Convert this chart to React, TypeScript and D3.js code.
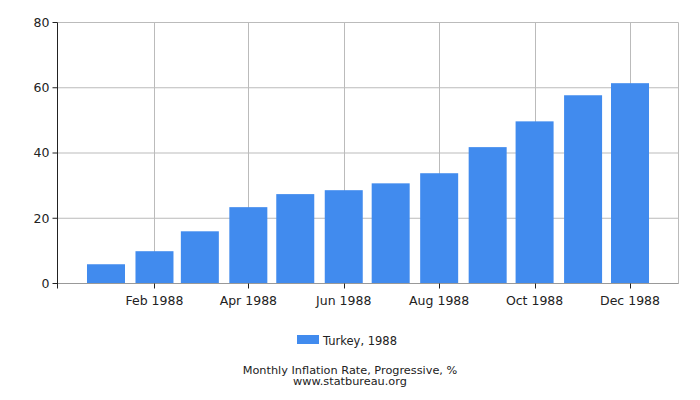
import React from "react";
import * as d3 from "d3";

const months: Date[] = d3.range(12).map((m) => new Date(1988, m, 1));
const values: number[] = [5.9, 9.9, 16.0, 23.4, 27.4, 28.6, 30.7, 33.8, 41.8, 49.7, 57.7, 61.4];
const yTicks: number[] = [0, 20, 40, 60, 80];
const xTickMonths: number[] = [1, 3, 5, 7, 9, 11];
const seriesName = "Turkey, 1988";
const title = "Monthly Inflation Rate, Progressive, %";
const source = "www.statbureau.org";

const W = 700;
const H = 400;
const left = 57.5;
const right = 678.5;
const top = 22.5;
const bottom = 283.5;
const barColor = "#418bee";
const font = "'DejaVu Sans', Verdana, sans-serif";
const fmt = d3.timeFormat("%b %Y");

export default function App() {
  const x = d3
    .scaleTime()
    .domain([new Date(1987, 11, 1), new Date(1989, 0, 1)])
    .range([left, right]);
  const y = d3.scaleLinear().domain([0, 80]).range([bottom, top]);
  const barW = 38;
  const xTicks = xTickMonths.map((m) => months[m]);

  return (
    <svg
      width={W}
      height={H}
      style={{ position: "absolute", left: 0, top: 0, background: "#fff" }}
      fontFamily={font}
    >
      {/* horizontal grid */}
      {yTicks.map((t) => (
        <line key={"gy" + t} x1={left} x2={right} y1={y(t)} y2={y(t)} stroke="#bbbbbb" strokeWidth={1} />
      ))}
      {/* vertical grid */}
      {xTicks.map((d, i) => (
        <line
          key={"gx" + i}
          x1={Math.round(x(d)) + 0.5}
          x2={Math.round(x(d)) + 0.5}
          y1={top}
          y2={bottom}
          stroke="#bbbbbb"
          strokeWidth={1}
        />
      ))}
      <line x1={right} x2={right} y1={top} y2={bottom} stroke="#bbbbbb" strokeWidth={1} />
      {/* bars */}
      {values.map((v, i) => (
        <rect
          key={"b" + i}
          x={x(months[i]) - barW / 2}
          y={y(v)}
          width={barW}
          height={bottom - y(v)}
          fill={barColor}
        />
      ))}
      {/* axes */}
      <line x1={left} x2={right} y1={bottom} y2={bottom} stroke="#999999" strokeWidth={1} />
      <line x1={left} x2={left} y1={top} y2={bottom + 5} stroke="#222222" strokeWidth={1} />
      {yTicks.map((t) => (
        <g key={"yt" + t}>
          <line x1={left - 5} x2={left} y1={y(t)} y2={y(t)} stroke="#222222" />
          <text x={left - 8} y={y(t)} dy="0.35em" textAnchor="end" fontSize={12.5} fill="#222222">
            {t}
          </text>
        </g>
      ))}
      {xTicks.map((d, i) => (
        <g key={"xt" + i}>
          <line
            x1={Math.round(x(d)) + 0.5}
            x2={Math.round(x(d)) + 0.5}
            y1={bottom}
            y2={bottom + 5}
            stroke="#222222"
          />
          <text x={x(d)} y={305} textAnchor="middle" fontSize={12.5} fill="#222222">
            {fmt(d)}
          </text>
        </g>
      ))}
      {/* legend */}
      <rect x={297} y={335} width={22} height={9} fill={barColor} />
      <text x={323} y={345} fontSize={11.5} fill="#222222">
        {seriesName}
      </text>
      {/* title */}
      <text x={350} y={374} textAnchor="middle" fontSize={11.3} fill="#222222">
        {title}
      </text>
      <text x={350} y={385} textAnchor="middle" fontSize={11.3} fill="#222222">
        {source}
      </text>
    </svg>
  );
}
